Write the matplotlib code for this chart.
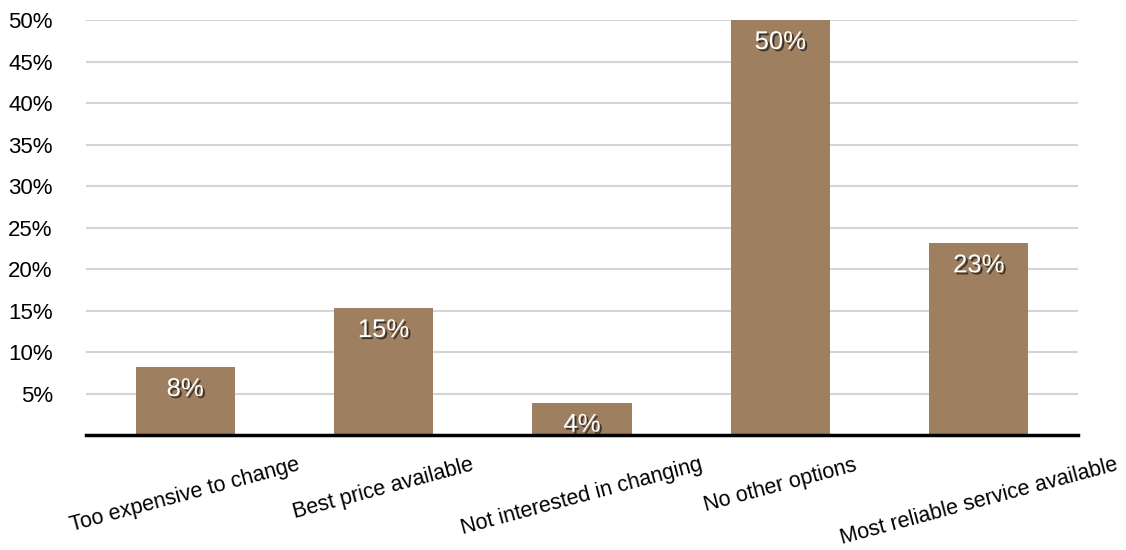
import matplotlib.pyplot as plt
import matplotlib.patheffects as pe

categories = ["Too expensive to change", "Best price available",
              "Not interested in changing", "No other options",
              "Most reliable service available"]
values = [8.2, 15.3, 3.9, 50.0, 23.1]
labels = ["8%", "15%", "4%", "50%", "23%"]
yticks = [5, 10, 15, 20, 25, 30, 35, 40, 45, 50]

plt.rcParams["font.family"] = ["Liberation Sans", "DejaVu Sans"]

fig = plt.figure(figsize=(11.26, 5.5), dpi=100)
ax = fig.add_axes([0.0764, 0.209, 0.881, 0.7546])

x = range(len(categories))
bars = ax.bar(x, values, width=0.5, color="#9e7f5f", zorder=3)

# value labels just inside the top of each bar, white with a soft shadow
for bar, lab in zip(bars, labels):
    t = ax.annotate(lab, (bar.get_x() + bar.get_width() / 2, bar.get_height()),
                    xytext=(0, -22), textcoords="offset pixels",
                    ha="center", va="center", color="white", fontsize=18.5, zorder=4)
    t.set_path_effects([pe.withSimplePatchShadow(offset=(1.5, -1.5), shadow_rgbFace="black", alpha=0.6)])

ax.set_xlim(-0.5, len(categories) - 0.5)
ax.set_ylim(0, 50)
ax.set_yticks(yticks)
ax.set_yticklabels([f"{v}%" for v in yticks], fontsize=16)
ax.set_xticks(list(x))
ax.set_xticklabels(categories, rotation=15, ha="center", fontsize=15.5)
ax.tick_params(axis="y", length=0, pad=24)
ax.tick_params(axis="x", length=0, pad=14)

ax.grid(axis="y", color="#d4d4d4", linewidth=1.5, zorder=0)
for s in ["top", "right", "left"]:
    ax.spines[s].set_visible(False)
ax.spines["bottom"].set_linewidth(2.5)
ax.spines["bottom"].set_color("black")
ax.spines["bottom"].set_zorder(5)

plt.savefig("out.png", dpi=100)
